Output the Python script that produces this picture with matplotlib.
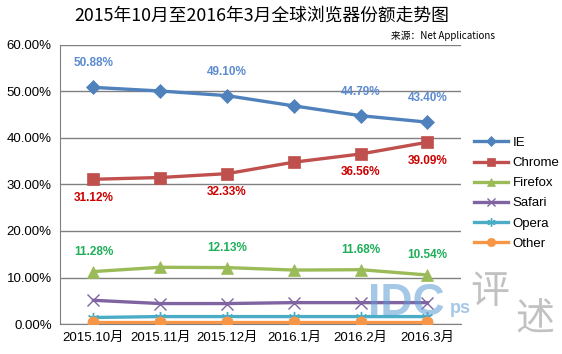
import matplotlib
matplotlib.use('Agg')
import matplotlib.pyplot as plt

plt.rcParams['font.family'] = ['Liberation Sans', 'Noto Sans CJK SC', 'DejaVu Sans']

# months
months = ['2015.10月', '2015.11月', '2015.12月', '2016.1月', '2016.2月', '2016.3月']

# browser shares (%)
ie = [50.88, 50.1, 49.10, 46.9, 44.79, 43.40]
chrome = [31.12, 31.5, 32.33, 34.8, 36.56, 39.09]
firefox = [11.28, 12.2, 12.13, 11.6, 11.68, 10.54]
safari = [5.1, 4.4, 4.4, 4.6, 4.6, 4.6]
opera = [1.4, 1.6, 1.6, 1.6, 1.6, 1.6]
other = [0.5, 0.5, 0.5, 0.5, 0.5, 0.5]

# which points get a value label
labelled = [0, 2, 4, 5]

fig = plt.figure(figsize=(5.62, 3.54), dpi=100)
ax = fig.add_axes([0.1068, 0.0847, 0.7132, 0.7883])

x = list(range(len(months)))
series = [
    ('IE', ie, '#4F81BD', 'D', 7),
    ('Chrome', chrome, '#C0504D', 's', 8),
    ('Firefox', firefox, '#9BBB59', '^', 8),
    ('Safari', safari, '#8064A2', 'x', 8),
    ('Opera', opera, '#4BACC6', (6, 2, 0), 8),
    ('Other', other, '#F79646', 'o', 8),
]
for name, vals, col, mk, ms in series:
    thin = mk == 'x' or isinstance(mk, tuple)
    ax.plot(x, vals, color=col, lw=2.4, marker=mk, markersize=ms,
            markeredgewidth=1.0 if thin else 0.5, markeredgecolor=col,
            label=name, zorder=3)

# value labels
for i in labelled:
    ax.annotate('{:.2f}%'.format(ie[i]), (i, ie[i]), xytext=(0, 13), textcoords='offset points',
                ha='center', va='bottom', color='#5B8BD0', fontsize=8.5, fontweight='bold')
    ax.annotate('{:.2f}%'.format(chrome[i]), (i, chrome[i]), xytext=(0, -9), textcoords='offset points',
                ha='center', va='top', color='#CC0000', fontsize=8.5, fontweight='bold')
    ax.annotate('{:.2f}%'.format(firefox[i]), (i, firefox[i]), xytext=(0, 10), textcoords='offset points',
                ha='center', va='bottom', color='#1FAF5A', fontsize=8.5, fontweight='bold')

ax.set_xlim(-0.5, len(months) - 0.5)
ax.set_ylim(0, 60)
ax.set_yticks(range(0, 61, 10))
ax.set_yticklabels(['{:.2f}%'.format(v) for v in range(0, 61, 10)], fontsize=9.5)
ax.set_xticks(x)
ax.set_xticklabels(months, fontsize=9.5)
ax.tick_params(length=0, pad=6)
ax.grid(axis='y', color='#808080', lw=1)
ax.set_axisbelow(True)
for s in ['top', 'right']:
    ax.spines[s].set_visible(False)
for s in ['left', 'bottom']:
    ax.spines[s].set_color('#808080')

ax.legend(loc='upper left', bbox_to_anchor=(1.02, 0.69), frameon=False, fontsize=9.5,
          handlelength=2.6, handletextpad=0.3, labelspacing=0.6, borderaxespad=0,
          markerscale=0.75)

fig.text(0.466, 0.955, '2015年10月至2016年3月全球浏览器份额走势图', ha='center', va='center',
         fontsize=12.8, family=['Noto Sans CJK SC', 'DejaVu Sans'])
fig.text(0.695, 0.9, '来源：Net Applications', ha='left', va='center', fontsize=7,
         family=['Noto Sans CJK SC', 'DejaVu Sans'])

# watermark
fig.text(0.655, 0.085, 'IDC', fontsize=32, fontweight='bold', color='#5B9BD5', alpha=0.55,
         ha='left', va='bottom')
fig.text(0.80, 0.105, 'ps', fontsize=13, fontweight='bold', color='#5B9BD5', alpha=0.55,
         ha='left', va='bottom')
fig.text(0.872, 0.175, '评', fontsize=28, color='#999999', alpha=0.6, ha='center', va='center',
         family=['Noto Sans CJK SC'])
fig.text(0.952, 0.1, '述', fontsize=28, color='#999999', alpha=0.6, ha='center', va='center',
         family=['Noto Sans CJK SC'])

fig.savefig('out.png', dpi=100)
